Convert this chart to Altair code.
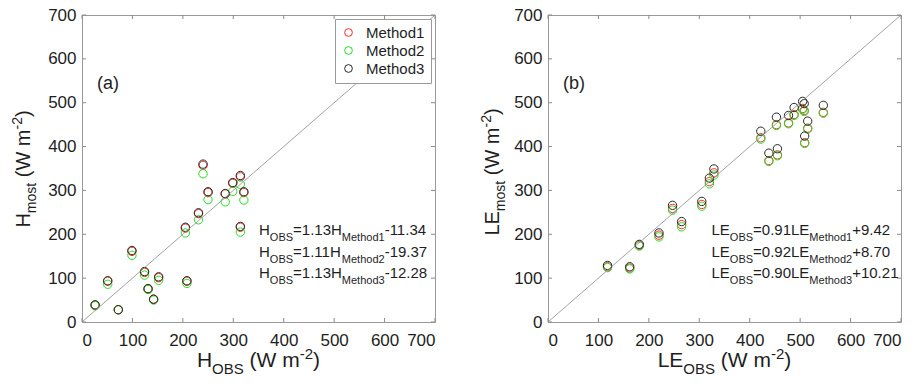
import altair as alt
import pandas as pd

# ---------------- data ----------------
methods = ["Method1", "Method2", "Method3"]
method_colors = ["#ff2a2a", "#22e022", "#262626"]

# panel (a): sensible heat
h_obs = [26, 51, 72, 99, 124, 131, 142, 152, 205, 208, 231, 240, 250, 284, 299, 314, 321, 314]
h_m1 = [39, 93, 28, 161, 113, 76, 52, 101, 214, 93, 247, 357, 295, 292, 316, 331, 295, 216]
h_m2 = [37, 86, 28, 152, 107, 74, 50, 95, 203, 88, 233, 338, 279, 274, 298, 314, 278, 205]
h_m3 = [39, 94, 28, 163, 115, 76, 52, 103, 216, 94, 249, 360, 297, 293, 318, 334, 297, 218]

# panel (b): latent heat
le_obs = [118, 162, 181, 220, 247, 265, 305, 320, 329, 422, 438, 455, 453, 477, 488, 505, 508, 509, 515, 546]
le_m1 = [126, 123, 175, 198, 259, 222, 268, 320, 340, 420, 368, 381, 450, 454, 473, 487, 482, 409, 442, 478]
le_m2 = [124, 121, 173, 194, 255, 217, 264, 315, 335, 417, 366, 379, 448, 452, 471, 485, 480, 407, 440, 476]
le_m3 = [129, 126, 177, 203, 266, 229, 275, 328, 349, 435, 385, 395, 467, 471, 489, 503, 498, 424, 458, 494]

tick_values = [0, 100, 200, 300, 400, 500, 600, 700]
one_to_one = [0, 700]

eq_a = [
    [("H", "n"), ("OBS", "sub"), ("=1.13H", "n"), ("Method1", "sub"), ("-11.34", "n")],
    [("H", "n"), ("OBS", "sub"), ("=1.11H", "n"), ("Method2", "sub"), ("-19.37", "n")],
    [("H", "n"), ("OBS", "sub"), ("=1.13H", "n"), ("Method3", "sub"), ("-12.28", "n")],
]
eq_b = [
    [("LE", "n"), ("OBS", "sub"), ("=0.91LE", "n"), ("Method1", "sub"), ("+9.42", "n")],
    [("LE", "n"), ("OBS", "sub"), ("=0.92LE", "n"), ("Method2", "sub"), ("+8.70", "n")],
    [("LE", "n"), ("OBS", "sub"), ("=0.90LE", "n"), ("Method3", "sub"), ("+10.21", "n")],
]
xtitle_a = [("H", "n"), ("OBS", "sub"), (" (W m", "n"), ("-2", "sup"), (")", "n")]
ytitle_a = [("H", "n"), ("most", "sub"), (" (W m", "n"), ("-2", "sup"), (")", "n")]
xtitle_b = [("LE", "n"), ("OBS", "sub"), (" (W m", "n"), ("-2", "sup"), (")", "n")]
ytitle_b = [("LE", "n"), ("most", "sub"), (" (W m", "n"), ("-2", "sup"), (")", "n")]

# ---------------- styling ----------------
FONT = "Liberation Sans"
TXT = "#1e1e1e"
W, H = 353, 307
AW = {'H': 722, 'O': 778, 'B': 667, 'S': 667, '=': 584, '.': 278, '-': 333, '+': 584,
      'M': 833, 'e': 556, 't': 278, 'h': 556, 'o': 556, 'd': 556, 'L': 556, 'E': 667,
      'm': 833, 's': 500, ' ': 278, '(': 333, ')': 333, 'W': 944}


def text_width(s, size):
    return sum(AW.get(c, 556) for c in s) * size / 1000.0


one = pd.DataFrame({"a": [0]})


def rich(segments, x, y, size, sub_size, sub_shift, sup_shift, angle=0, center=False):
    sizes = {"n": size, "sub": sub_size, "sup": sub_size}
    shifts = {"n": 0, "sub": sub_shift, "sup": -sup_shift}
    widths = [text_width(t, sizes[k]) for t, k in segments]
    off = -sum(widths) / 2 if center else 0
    layers = []
    for (t, k), w in zip(segments, widths):
        lead = len(t) - len(t.lstrip(" "))
        shown = t.strip(" ")
        kw = dict(text=shown, align="left", baseline="alphabetic", font=FONT,
                  fontSize=sizes[k], dx=off + text_width(" " * lead, sizes[k]),
                  dy=shifts[k], color=TXT)
        if angle:
            kw["angle"] = angle
        layers.append(alt.Chart(one).mark_text(**kw).encode(x=alt.value(x), y=alt.value(y)))
        off += w
    return layers


def panel_df(obs, m1, m2, m3):
    rows = []
    for name, vals in zip(methods, [m1, m2, m3]):
        for o, v in zip(obs, vals):
            rows.append({"obs": o, "model": v, "method": name})
    return pd.DataFrame(rows)


def panel(obs, m1, m2, m3, eqs, xt, yt, label, eq_x, yt_x, yt_y, show_legend):
    df = panel_df(obs, m1, m2, m3)
    xs = alt.Scale(domain=[0, 700], nice=False, zero=False)
    ys = alt.Scale(domain=[0, 700], nice=False, zero=False)
    ax = dict(values=tick_values, grid=False, domain=False, ticks=False, title=None,
              labelFont=FONT, labelFontSize=17, labelColor=TXT, format="d")
    xaxis = alt.Axis(labelPadding=10, **ax)
    yaxis = alt.Axis(labelPadding=6, **ax)
    legend = None
    if show_legend:
        legend = alt.Legend(title=None, orient="top-right", offset=4, fillColor="white",
                            strokeColor="#9a9a9a", padding=6, labelFont=FONT, labelFontSize=15,
                            labelColor=TXT, symbolType="circle", symbolSize=60,
                            symbolStrokeWidth=1, rowPadding=2, labelOffset=10)
    pts = alt.Chart(df).mark_point(shape="circle", filled=False, size=70, strokeWidth=1,
                                   opacity=1).encode(
        x=alt.X("obs:Q", scale=xs, axis=xaxis),
        y=alt.Y("model:Q", scale=ys, axis=yaxis),
        color=alt.Color("method:N", scale=alt.Scale(domain=methods, range=method_colors),
                        legend=legend),
    )
    line = alt.Chart(pd.DataFrame({"x": one_to_one, "y": one_to_one})).mark_line(
        color="#8a8a8a", strokeWidth=0.8).encode(
        x=alt.X("x:Q", scale=xs, axis=xaxis), y=alt.Y("y:Q", scale=ys, axis=yaxis))
    tdf = pd.DataFrame({"v": tick_values})
    tk = dict(color="#8a8a8a", strokeWidth=1)
    t_bot = alt.Chart(tdf).mark_rule(**tk).encode(
        x=alt.X("v:Q", scale=xs, axis=xaxis), y=alt.value(H), y2=alt.value(H - 4))
    t_top = alt.Chart(tdf).mark_rule(**tk).encode(
        x=alt.X("v:Q", scale=xs, axis=xaxis), y=alt.value(0), y2=alt.value(4))
    t_left = alt.Chart(tdf).mark_rule(**tk).encode(
        y=alt.Y("v:Q", scale=ys, axis=yaxis), x=alt.value(0), x2=alt.value(4))
    t_right = alt.Chart(tdf).mark_rule(**tk).encode(
        y=alt.Y("v:Q", scale=ys, axis=yaxis), x=alt.value(W), x2=alt.value(W - 4))
    anchor = alt.Chart(one).mark_rule(opacity=0, strokeWidth=1).encode(
        x=alt.value(-73.5), y=alt.value(100), y2=alt.value(110))
    layers = [pts, line, t_bot, t_top, t_left, t_right, anchor]
    for i, eq in enumerate(eqs):
        layers += rich(eq, eq_x, 220.4 + 21.5 * i, 15, 11, 6, 6)
    layers += rich(xt, W / 2, 352, 21, 15, 7, 8, center=True)
    layers += rich(yt, yt_x, yt_y, 20, 14, 6, 8, angle=270, center=True)
    layers.append(alt.Chart(one).mark_text(text=label, align="left", baseline="alphabetic",
                                           font=FONT, fontSize=18, color=TXT).encode(
        x=alt.value(15), y=alt.value(74)))
    return alt.layer(*layers).properties(width=W, height=H)


left = panel(h_obs, h_m1, h_m2, h_m3, eq_a, xtitle_a, ytitle_a, "(a)", 177, -52, 154, True)
right = panel(le_obs, le_m1, le_m2, le_m3, eq_b, xtitle_b, ytitle_b, "(b)", 163.5, -49, 157, False)

chart = alt.hconcat(left, right, spacing=113, bounds="flush",
                    padding={"left": 0, "top": -3, "right": 0, "bottom": 0}).resolve_scale(
    color="independent").configure_view(stroke="#9a9a9a", strokeWidth=1)

chart.save("out.html", embed_options={"renderer": "svg", "actions": False})
